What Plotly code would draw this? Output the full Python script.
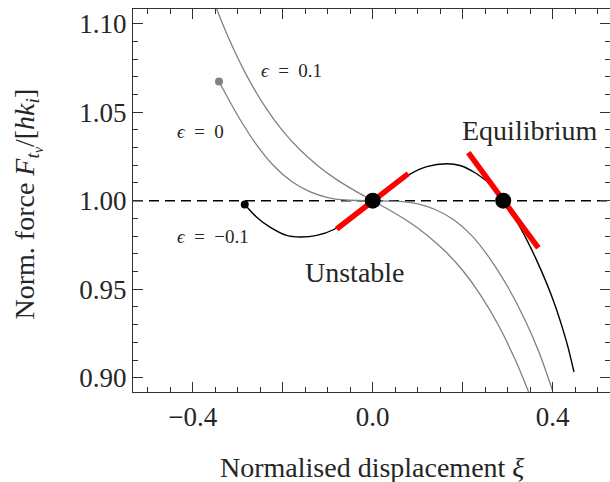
import plotly.graph_objects as go

# ---- data ----
eps01_x = [-0.350, -0.32, -0.28, -0.24, -0.20, -0.16, -0.12, -0.08, -0.04, 0.0, 0.04, 0.08, 0.12, 0.16, 0.20, 0.24, 0.28, 0.32, 0.35]
eps01_y = [1.1103, 1.0917, 1.0706, 1.0534, 1.0394, 1.0283, 1.0193, 1.0119, 1.0057, 1.0, 0.9943, 0.9881, 0.9807, 0.9717, 0.9606, 0.9466, 0.9294, 0.9083, 0.8897]

eps0_x = [-0.3416, -0.30, -0.26, -0.22, -0.18, -0.14, -0.10, -0.06, 0.0, 0.06, 0.10, 0.14, 0.18, 0.22, 0.26, 0.30, 0.34, 0.37, 0.40]
eps0_y = [1.0673, 1.0481, 1.0322, 1.0197, 1.0108, 1.0051, 1.0018, 1.0004, 1.0, 0.9996, 0.9982, 0.9949, 0.9892, 0.9803, 0.9675, 0.9514, 0.9318, 0.9141, 0.8925]

epsm01_x = [-0.2844, -0.2578, -0.2282, -0.1911, -0.1616, -0.1244, -0.0876, -0.04, 0.0, 0.04, 0.0829, 0.12, 0.1644, 0.194, 0.2311, 0.268, 0.29, 0.3273, 0.3644, 0.4013, 0.4311, 0.4473]
epsm01_y = [0.9979, 0.9907, 0.9851, 0.9804, 0.9795, 0.9804, 0.9836, 0.9921, 1.0, 1.0079, 1.0150, 1.0192, 1.0209, 1.0199, 1.0152, 1.0076, 1.0, 0.9851, 0.9663, 0.9437, 0.9200, 0.9033]

tan1_x = [-0.08, 0.079]
tan1_y = [0.984, 1.0153]
tan2_x = [0.2124, 0.368]
tan2_y = [1.0271, 0.9733]

eq_x = [0.0, 0.29]
eq_y = [1.0, 1.0]

x_tickvals = [-0.4, -0.2, 0.0, 0.2, 0.4]
x_ticktext = ["\u22120.4", "", "0.0", "", "0.4"]
y_tickvals = [0.90, 0.95, 1.00, 1.05, 1.10]
y_ticktext = ["0.90", "0.95", "1.00", "1.05", "1.10"]

SP = "\u2002"
labels = ["<i>\u03f5</i>" + SP + "=" + SP + "0.1",
          "<i>\u03f5</i>" + SP + "=" + SP + "0",
          "<i>\u03f5</i>" + SP + "=" + SP + "\u22120.1",
          "Unstable", "Equilibrium"]
label_x = [-0.1804, -0.3838, -0.356, -0.0393, 0.3496]
label_y = [1.0736, 1.0391, 0.9799, 0.9595, 1.0396]
label_size = [19, 19, 19, 28, 28]

X_RANGE = [-0.5327, 0.5273]
Y_RANGE = [0.89199, 1.10824]

FONT = "Liberation Serif"
GREY = "#808080"
TXT = "#262626"

fig = go.Figure()

# dashed reference line
fig.add_trace(go.Scatter(x=X_RANGE, y=[1.0, 1.0], mode="lines",
                         line=dict(color="black", width=1.5, dash="10px,6px"),
                         hoverinfo="skip"))

fig.add_trace(go.Scatter(x=eps01_x, y=eps01_y, mode="lines",
                         line=dict(color=GREY, width=1.3, shape="spline", smoothing=0.8)))
fig.add_trace(go.Scatter(x=eps0_x, y=eps0_y, mode="lines",
                         line=dict(color=GREY, width=1.3, shape="spline", smoothing=0.8)))
fig.add_trace(go.Scatter(x=epsm01_x, y=epsm01_y, mode="lines",
                         line=dict(color="black", width=1.4, shape="spline", smoothing=0.8)))

# start dots
fig.add_trace(go.Scatter(x=[eps0_x[0]], y=[eps0_y[0]], mode="markers",
                         marker=dict(color=GREY, size=8)))
fig.add_trace(go.Scatter(x=[epsm01_x[0]], y=[epsm01_y[0]], mode="markers",
                         marker=dict(color="black", size=8)))

# tangents
fig.add_trace(go.Scatter(x=tan1_x, y=tan1_y, mode="lines", line=dict(color="#ff0000", width=5.5)))
fig.add_trace(go.Scatter(x=tan2_x, y=tan2_y, mode="lines", line=dict(color="#ff0000", width=5.5)))

# equilibrium points
fig.add_trace(go.Scatter(x=eq_x, y=eq_y, mode="markers", marker=dict(color="black", size=16)))

for t, lx, ly, s in zip(labels, label_x, label_y, label_size):
    fig.add_annotation(x=lx, y=ly, text=t, showarrow=False,
                       font=dict(family=FONT, size=s, color=TXT),
                       xanchor="center", yanchor="middle")

# axis titles
fig.add_annotation(xref="paper", yref="paper", x=0.5, y=0, yshift=-75,
                   text="Normalised displacement <i>\u03be</i>", showarrow=False,
                   font=dict(family=FONT, size=28, color=TXT),
                   xanchor="center", yanchor="middle")
fig.add_annotation(xref="paper", yref="paper", x=0, y=0.5, xshift=-106, yshift=-4,
                   text="Norm. force <i>F</i><sub><i>t</i><sub><i>v</i></sub></sub>/[<i>hk</i><sub><i>i</i></sub>]",
                   showarrow=False, textangle=-90,
                   font=dict(family=FONT, size=28, color=TXT),
                   xanchor="center", yanchor="middle")

axis_common = dict(showgrid=False, zeroline=False, showline=True, linecolor="#333333",
                   linewidth=1.3, mirror="allticks", ticks="inside", tickcolor="#333333",
                   tickwidth=1.2, ticklen=10,
                   tickfont=dict(family=FONT, size=27, color=TXT))

fig.update_xaxes(range=X_RANGE, tickmode="array", tickvals=x_tickvals, ticktext=x_ticktext,
                 minor=dict(dtick=0.05, tick0=0, ticks="inside", ticklen=5, tickcolor="#333333", tickwidth=1.0),
                 **axis_common)
fig.update_yaxes(range=Y_RANGE, tickmode="array", tickvals=y_tickvals, ticktext=y_ticktext,
                 minor=dict(dtick=0.01, tick0=0, ticks="inside", ticklen=5, tickcolor="#333333", tickwidth=1.0),
                 **axis_common)

fig.update_layout(width=610, height=482, showlegend=False,
                  margin=dict(l=133, r=0, t=8.5, b=90.3),
                  paper_bgcolor="white", plot_bgcolor="white",
                  font=dict(family=FONT, color=TXT))

fig.write_html("out.html")
